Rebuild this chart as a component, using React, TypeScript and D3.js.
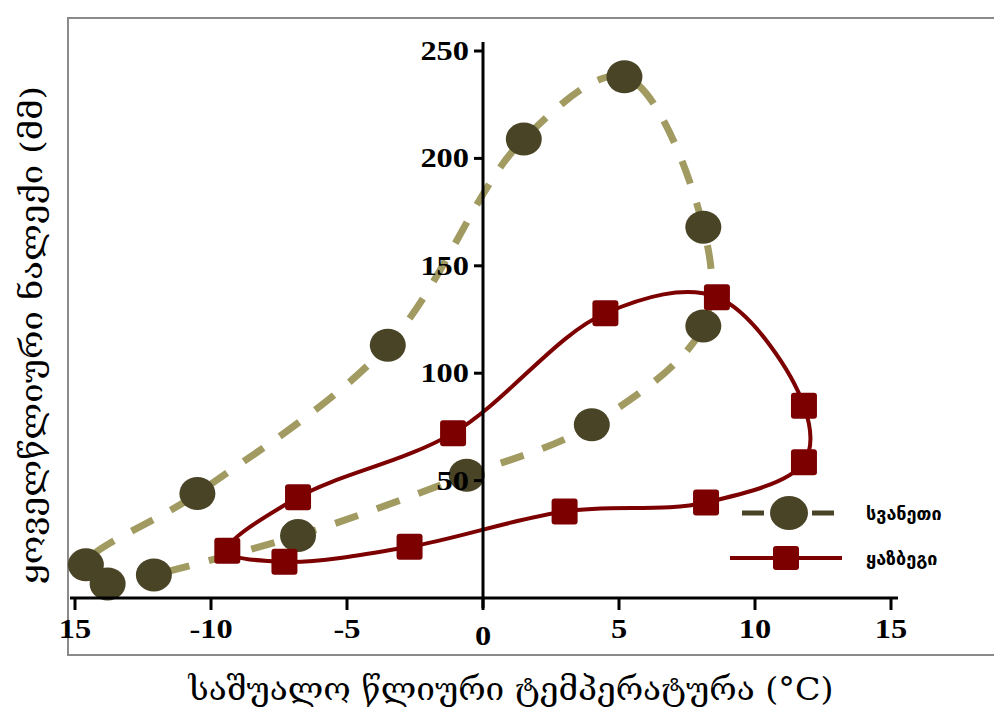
import React, { useRef, useEffect } from 'react'
import * as d3 from 'd3'

// სვანეთი: temperature (°C) and precipitation (mm)
const svanetiTemp = [-13.8, -14.6, -10.5, -3.5, 1.5, 5.2, 8.1, 8.1, 4.0, -0.6, -6.8, -12.1]
const svanetiPrec = [1.9, 10.8, 44, 113, 209, 238, 168, 122, 76, 52.5, 24.4, 6.1]

// ყაზბეგი
const kazbegiTemp = [-9.4, -6.8, -1.1, 4.5, 8.6, 11.8, 11.8, 8.2, 3.0, -2.7, -7.3]
const kazbegiPrec = [17.3, 42.2, 72.1, 127.9, 135.4, 84.8, 58.5, 39.8, 35.6, 19.2, 12.2]

const xTicks = [-15, -10, -5, 0, 5, 10, 15]
const xTickLabels = ['15', '-10', '-5', '0', '5', '10', '15']
const yTicks = [50, 100, 150, 200, 250]

const seriesNames = ['სვანეთი', 'ყაზბეგი']
const xTitle = 'საშუალო წლიური ტემპერატურა (°C)'
const yTitle = 'ყოველწლიური ნალექი (მმ)'

const App = () => {
  const ref = useRef<SVGSVGElement>(null)

  useEffect(() => {
    const svg = d3.select(ref.current)
    svg.selectAll('*').remove()

    const x = d3.scaleLinear().domain([-15, 15]).range([75, 891])
    const y = d3.scaleLinear().domain([0, 250]).range([588, 51])

    const olive = '#4a4427'
    const khaki = '#a19b62'
    const red = '#7d0000'
    const tickFont = '"Liberation Serif", "Times New Roman", serif'
    const geoFont = '"DejaVu Serif", "DejaVu Sans", serif'

    // frame
    svg.append('rect')
      .attr('x', 68).attr('y', 18)
      .attr('width', 940).attr('height', 637)
      .attr('fill', 'none')
      .attr('stroke', '#8a8a8a')
      .attr('stroke-width', 2)

    const g = svg.append('g')

    // lines
    const svaneti = svanetiTemp.map((t, i) => [t, svanetiPrec[i]])
    const kazbegi = kazbegiTemp.map((t, i) => [t, kazbegiPrec[i]])

    const openLine = d3.line()
      .x(d => x(d[0])).y(d => y(d[1]))
      .curve(d3.curveCatmullRom.alpha(0.5))
    const closedLine = d3.line()
      .x(d => x(d[0])).y(d => y(d[1]))
      .curve(d3.curveCatmullRomClosed.alpha(0.5))

    g.append('path')
      .attr('d', openLine(svaneti))
      .attr('fill', 'none')
      .attr('stroke', khaki)
      .attr('stroke-width', 7)
      .attr('stroke-dasharray', '24 20')

    g.append('path')
      .attr('d', closedLine(kazbegi))
      .attr('fill', 'none')
      .attr('stroke', red)
      .attr('stroke-width', 4)

    // markers
    g.selectAll('.sv')
      .data(svaneti)
      .join('ellipse')
      .attr('cx', d => x(d[0])).attr('cy', d => y(d[1]))
      .attr('rx', 18).attr('ry', 16.5)
      .attr('fill', olive)

    g.selectAll('.kz')
      .data(kazbegi)
      .join('rect')
      .attr('x', d => x(d[0]) - 13).attr('y', d => y(d[1]) - 13)
      .attr('width', 26).attr('height', 26)
      .attr('rx', 3)
      .attr('fill', red)

    // axes
    const axisY = 598
    g.append('line')
      .attr('x1', 70).attr('x2', 898)
      .attr('y1', axisY).attr('y2', axisY)
      .attr('stroke', '#000').attr('stroke-width', 3)
    g.append('line')
      .attr('x1', x(0)).attr('x2', x(0))
      .attr('y1', 42).attr('y2', 608)
      .attr('stroke', '#000').attr('stroke-width', 3)

    xTicks.forEach((t, i) => {
      g.append('line')
        .attr('x1', x(t)).attr('x2', x(t))
        .attr('y1', axisY).attr('y2', axisY + 12)
        .attr('stroke', '#000').attr('stroke-width', 3)
      g.append('text')
        .attr('transform', `translate(${x(t)},${t === 0 ? 645 : 638}) scale(1.2,1)`)
        .attr('text-anchor', 'middle')
        .style('font-family', tickFont)
        .style('font-weight', 'bold')
        .style('font-size', '27px')
        .text(xTickLabels[i])
    })

    yTicks.forEach(t => {
      g.append('line')
        .attr('x1', x(0) - 9).attr('x2', x(0))
        .attr('y1', y(t)).attr('y2', y(t))
        .attr('stroke', '#000').attr('stroke-width', 3)
      g.append('text')
        .attr('transform', `translate(${x(0) - 14},${y(t) + 9}) scale(1.2,1)`)
        .attr('text-anchor', 'end')
        .style('font-family', tickFont)
        .style('font-weight', 'bold')
        .style('font-size', '27px')
        .text(t)
    })

    // legend
    const lg = svg.append('g')
    lg.append('line')
      .attr('x1', 742).attr('x2', 836)
      .attr('y1', 513).attr('y2', 513)
      .attr('stroke', olive).attr('stroke-width', 5)
      .attr('stroke-dasharray', '22 48')
    lg.append('ellipse')
      .attr('cx', 789).attr('cy', 513)
      .attr('rx', 19).attr('ry', 17)
      .attr('fill', olive)
    lg.append('line')
      .attr('x1', 730).attr('x2', 842)
      .attr('y1', 558).attr('y2', 558)
      .attr('stroke', red).attr('stroke-width', 4)
    lg.append('rect')
      .attr('x', 773).attr('y', 546)
      .attr('width', 26).attr('height', 24)
      .attr('rx', 3)
      .attr('fill', red)
    seriesNames.forEach((n, i) => {
      lg.append('text')
        .attr('x', 866).attr('y', 520 + i * 45)
        .style('font-family', '"DejaVu Sans", sans-serif')
        .style('font-weight', 'bold')
        .style('font-size', '18px')
        .text(n)
    })

    // titles
    svg.append('text')
      .attr('x', 511).attr('y', 700)
      .attr('text-anchor', 'middle')
      .attr('textLength', 645)
      .attr('lengthAdjust', 'spacingAndGlyphs')
      .style('font-family', geoFont)
      .style('font-size', '31px')
      .text(xTitle)

    svg.append('text')
      .attr('transform', 'translate(42, 335) rotate(-90)')
      .attr('text-anchor', 'middle')
      .attr('textLength', 498)
      .attr('lengthAdjust', 'spacingAndGlyphs')
      .style('font-family', geoFont)
      .style('font-size', '30px')
      .text(yTitle)
  }, [])

  return (
    <svg
      ref={ref}
      width={994}
      height={714}
      style={{ position: 'absolute', left: 0, top: 0, background: '#fff' }}
    />
  )
}

export default App
